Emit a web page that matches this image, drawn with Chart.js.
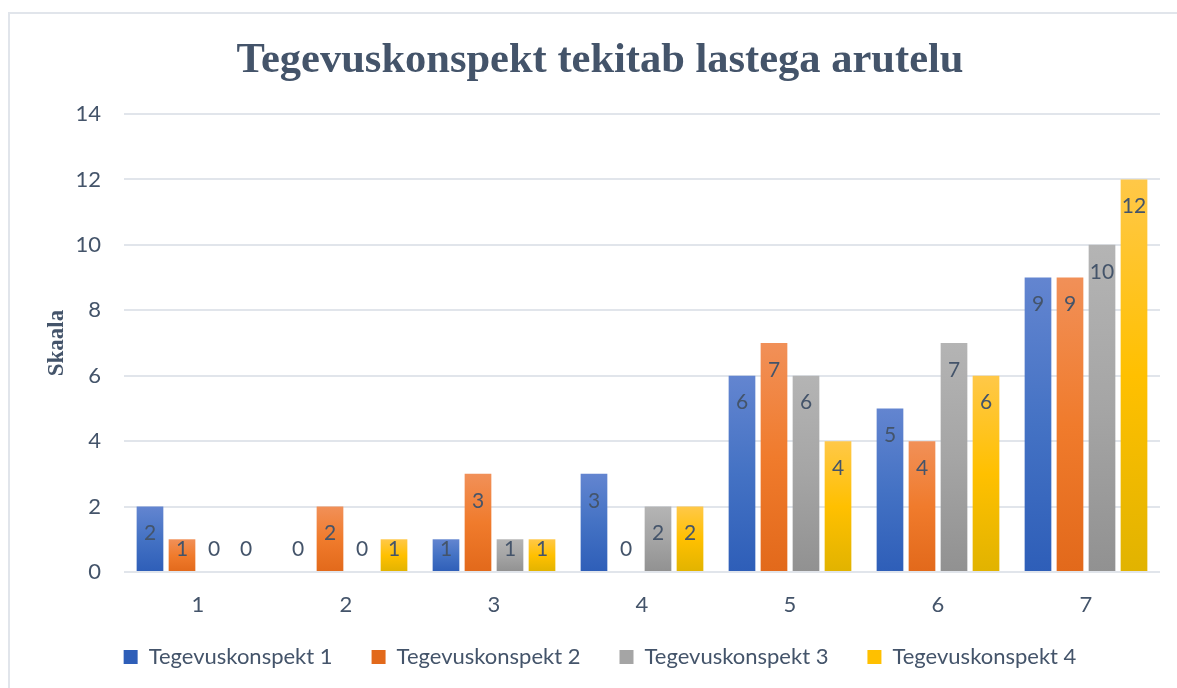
<!DOCTYPE html>
<html>
<head>
<meta charset="utf-8">
<script src="https://cdn.jsdelivr.net/npm/chart.js@4.4.1/dist/chart.umd.min.js"></script>
<style>
html,body{margin:0;padding:0;background:#fff;overflow:hidden}
#raam{position:absolute;left:8px;top:12px;width:1400px;height:900px;border:2px solid #E1E5EB}
#wrap{position:absolute;left:0;top:0;width:1177px;height:688px}
</style>
</head>
<body>
<div id="raam"></div>
<div id="wrap"><canvas id="graafik"></canvas></div>
<script>
// --- andmed ---
var kategooriad=['1','2','3','4','5','6','7'];
var seeriaNimed=['Tegevuskonspekt 1','Tegevuskonspekt 2','Tegevuskonspekt 3','Tegevuskonspekt 4'];
var konspekt1=[2,0,1,3,6,5,9];
var konspekt2=[1,2,3,0,7,4,9];
var konspekt3=[0,0,1,2,6,7,10];
var konspekt4=[0,1,1,2,4,6,12];
var yTicks=[0,2,4,6,8,10,12,14];

var tekstVarv='#44546A';
// [ülemine, keskmine, alumine]
var varvid=[
  ['#6385D0','#4472C4','#2E5EB8'],
  ['#F19058','#F07B2C','#E2691B'],
  ['#B4B4B4','#A5A5A5','#919191'],
  ['#FFC848','#FFC000','#E1B300']
];

function taidis(i){
  return function(c){
    if(c.type!=='data')return varvid[i][1];
    var ch=c.chart,y=ch.scales.y;
    var v=ch.data.datasets[c.datasetIndex].data[c.dataIndex];
    var top=y.getPixelForValue(v),base=y.getPixelForValue(0);
    if(!(base-top>1))return varvid[i][1];
    var g=ch.ctx.createLinearGradient(0,top,0,base);
    g.addColorStop(0,varvid[i][0]);
    g.addColorStop(0.5,varvid[i][1]);
    g.addColorStop(1,varvid[i][2]);
    return g;
  };
}

var andmed=[konspekt1,konspekt2,konspekt3,konspekt4];
var datasets=andmed.map(function(d,i){
  return {label:seeriaNimed[i],data:d,backgroundColor:taidis(i),borderWidth:0,
    categoryPercentage:0.865,barPercentage:0.834};
});

// väärtused tulba sisse ülaotsa
var sildid={
  id:'sildid',
  afterLayout:function(chart){
    // legend veidi ülespoole
    if(chart.legend){chart.legend.top-=15;chart.legend.bottom-=15;}
  },
  afterDatasetsDraw:function(chart){
    var ctx=chart.ctx,base=chart.scales.y.getPixelForValue(0);
    ctx.save();
    ctx.font='21px Lato';
    ctx.fillStyle=tekstVarv;
    ctx.textAlign='center';
    ctx.textBaseline='middle';
    chart.data.datasets.forEach(function(ds,di){
      var meta=chart.getDatasetMeta(di);
      meta.data.forEach(function(bar,i){
        var y=Math.min(bar.y+27,base-23);
        ctx.fillText(String(ds.data[i]),bar.x,y);
      });
    });
    ctx.restore();
  }
};

new Chart(document.getElementById('graafik'),{
  type:'bar',
  data:{labels:kategooriad,datasets:datasets},
  plugins:[sildid],
  options:{
    responsive:true,maintainAspectRatio:false,animation:false,
    layout:{padding:{left:40,right:17,top:0,bottom:0}},
    plugins:{
      title:{display:true,text:'Tegevuskonspekt tekitab lastega arutelu',color:tekstVarv,
        font:{family:'Liberation Serif',size:42.5,weight:'bold'},padding:{top:36,bottom:27}},
      legend:{position:'bottom',maxHeight:66,
        labels:{color:tekstVarv,font:{family:'Lato',size:22},boxWidth:14,boxHeight:14,padding:39}},
      tooltip:{enabled:false}
    },
    scales:{
      x:{grid:{display:false,drawTicks:false},border:{display:false},
        ticks:{color:tekstVarv,font:{family:'Lato',size:22},padding:20},
        afterFit:function(s){s.height=50;}},
      y:{min:0,max:14,
        afterBuildTicks:function(s){s.ticks=yTicks.map(function(v){return{value:v};});},
        grid:{color:'#E1E5EB',lineWidth:2,drawTicks:false},border:{display:false},
        ticks:{color:tekstVarv,font:{family:'Lato',size:22},padding:23},
        title:{display:true,text:'Skaala',color:tekstVarv,
          font:{family:'Liberation Serif',size:23,weight:'bold'},padding:{top:3,bottom:0}},
        afterFit:function(s){s.width=84;}}
    }
  }
});
</script>
</body>
</html>
